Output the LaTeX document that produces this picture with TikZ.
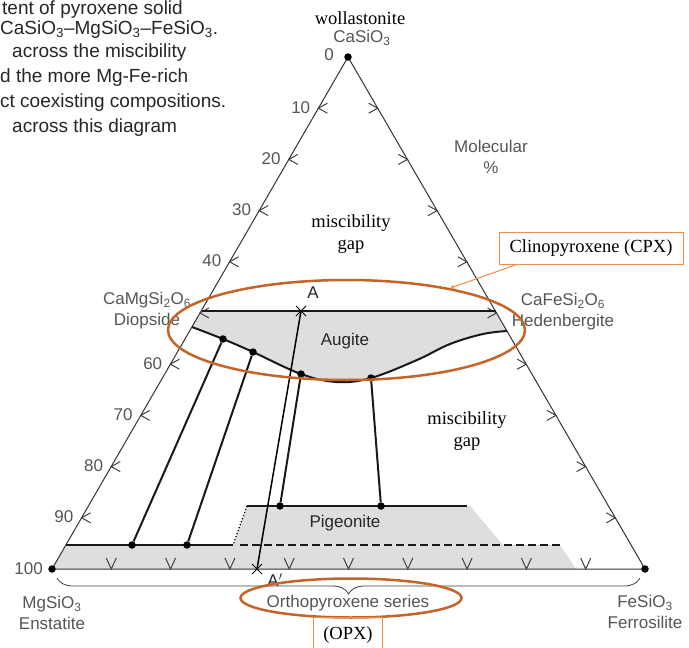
\documentclass[tikz,border=0pt]{standalone}
\usepackage{fontspec}
\setmainfont{Liberation Serif}
\newfontfamily\labfont{Liberation Sans}
\usepackage{tikz}
\usetikzlibrary{shapes.geometric,shapes.misc,decorations.pathreplacing}
\definecolor{ringcol}{RGB}{196,100,40}
\definecolor{boxcol}{RGB}{245,140,70}
\definecolor{labcol}{RGB}{85,85,85}
\definecolor{fillcol}{RGB}{222,222,222}

\tikzset{
  lab/.style={font=\labfont\fontsize{17}{21}\selectfont, text=labcol, align=center, inner sep=0pt},
  serlab/.style={font=\fontsize{18.5}{22}\selectfont, align=center, inner sep=0pt},
  booktxt/.style={font=\labfont\fontsize{19}{22}\selectfont, text=black!85, anchor=base west, inner sep=0pt},
  tie/.style={line width=2pt, black!90},
  dot/.style={circle, fill=black, inner sep=0pt, minimum size=7.5pt},
  xmark/.style={cross out, draw, line width=1pt, inner sep=0pt, minimum size=9pt},
  ring/.style={ellipse, draw=ringcol, line width=2.5pt, inner sep=0pt},
  tickmark/.style={line width=1pt, black!75},
}

\begin{document}
\begin{tikzpicture}[x=1pt, y=-1pt]
\useasboundingbox (0,0) rectangle (689,648);
\clip (0,0) rectangle (689,648);

% book text
\node[booktxt] (t1) at (2,14) {tent of pyroxene solid};
\node[booktxt] (t2) at (0,34) {CaSiO\textsubscript{3}–MgSiO\textsubscript{3}–FeSiO\textsubscript{3}.};
\node[booktxt] (t3) at (12,57) {across the miscibility};
\node[booktxt] (t4) at (0,82) {d the more Mg-Fe-rich};
\node[booktxt] (t5) at (0,107) {ct coexisting compositions.};
\node[booktxt] (t6) at (12,132) {across this diagram};

% shaded fields
\fill[fillcol] plot[smooth, tension=0.6] coordinates {(192,327) (223,339) (253,352) (301,374) (337,382) (371,378) (417,360) (450,344) (483,334) (507,331)} -- (496,311) -- (202,311) -- cycle;
\fill[fillcol] (247,506) -- (470,506) -- (503,545) -- (560,545) -- (576,569) -- (52,569) -- (66,545) -- (233,545) -- cycle;

% triangle
\draw[line width=1pt, black!80] (348,57) -- (52,569) -- (645,569) -- cycle;
\node[dot] (wo) at (348,57) {};
\node[dot] (en) at (52,569) {};
\node[dot] (fs) at (645,569) {};

\foreach \p in {1,...,9} {
  \coordinate (l\p) at ({348-29.6*\p},{57+51.2*\p});
  \coordinate (r\p) at ({348+29.7*\p},{57+51.2*\p});
  \coordinate (b\p) at ({52+59.3*\p},569);
  \draw[tickmark] (l\p) ++(9,-5) -- (l\p) -- ++(9,5);
  \draw[tickmark] (r\p) ++(-9,-5) -- (r\p) -- ++(-9,5);
  \draw[tickmark] (b\p) ++(-5,-11) -- (b\p) -- ++(5,-11);
}
\foreach \p/\n in {1/10,2/20,3/30,4/40,6/60,7/70,8/80,9/90}
  \node[lab, anchor=east] (n\n) at ([xshift=-8pt, yshift=1pt]l\p) {\n};
\node[lab, anchor=east] (n0) at ([xshift=-14pt, yshift=2pt]wo.center) {0};
\node[lab, anchor=east] (n100) at ([xshift=-9pt]en.center) {100};

% augite field
\draw[tie] (202,311) -- (496,311);
\draw[tie] plot[smooth, tension=0.6] coordinates {(192,327) (223,339) (253,352) (301,374) (337,382) (371,378) (417,360) (450,344) (483,334) (507,331)};

% pigeonite and orthopyroxene
\draw[tie] (247,506) -- (467,506);
\draw[tie] (66,545) -- (233,545);
\draw[tie, dash pattern=on 8pt off 4pt] (240,545) -- (560,545);
\draw[line width=1.2pt, dotted] (247,506) -- (233,545);

% tie lines
\node[dot] (a1) at (223,339) {};
\node[dot] (a2) at (253,352) {};
\node[dot] (a3) at (301,374) {};
\node[dot] (a4) at (371,378) {};
\node[dot] (o1) at (132,545) {};
\node[dot] (o2) at (187,545) {};
\node[dot] (p1) at (280,506) {};
\node[dot] (p2) at (381,506) {};
\draw[tie] (a1) -- (o1);
\draw[tie] (a2) -- (o2);
\draw[tie] (a3) -- (p1);
\draw[tie] (a4) -- (p2);

\node[xmark] (xa) at (301,311) {};
\node[xmark] (xb) at (257,569) {};
\draw[line width=1.5pt] (xa.center) -- (xb.center);
\node[lab, text=black!85] (la) at (313,293) {A};
\node[lab, text=black!85] (lb) at (275,580) {A$'$};

% brace under the base
\coordinate (br1) at (57,578);
\coordinate (br2) at (640,578);
\draw[line width=0.8pt, black!75, decorate, decoration={brace, mirror, amplitude=16pt}] (br1) -- (br2);

% labels
\node[serlab] (wol) at (360,18) {wollastonite};
\node[lab] (cas) at (362,38) {CaSiO\textsubscript{3}};
\node[lab] (dio) at (147,311) {CaMgSi\textsubscript{2}O\textsubscript{6}\\Diopside};
\node[lab] (hed) at (563,312) {CaFeSi\textsubscript{2}O\textsubscript{6}\\Hedenbergite};
\node[lab] (ens) at (52,613) {MgSiO\textsubscript{3}\\Enstatite};
\node[lab] (fer) at (645,612) {FeSiO\textsubscript{3}\\Ferrosilite};
\node[lab] (mol) at (491,157) {Molecular\\\%};
\node[serlab] (gap1) at (351,234) {miscibility\\gap};
\node[serlab] (gap2) at (467,431) {miscibility\\gap};
\node[lab, text=black!85] (aug) at (345,341) {Augite};
\node[lab, text=black!85] (pig) at (345,523) {Pigeonite};
\node[lab] (ops) at (348,603) {Orthopyroxene series};

% highlights
\node[ring, minimum width=357pt, minimum height=100pt] (cpxring) at (346.5,330) {};
\node[ring, minimum width=221pt, minimum height=39pt] (opxring) at (351,598) {};
\node[serlab, draw=boxcol, line width=1pt, minimum width=184pt, minimum height=32pt] (cpx) at (591,248) {Clinopyroxene (CPX)};
\draw [->,>=stealth,boxcol,line width=1pt] ([xshift=18pt]cpx.south west) -- (cpxring.22.7);
\node[serlab, draw=boxcol, line width=1pt, minimum width=69pt, minimum height=36pt, anchor=north] (opx) at (348,617) {(OPX)};
\end{tikzpicture}
\end{document}
